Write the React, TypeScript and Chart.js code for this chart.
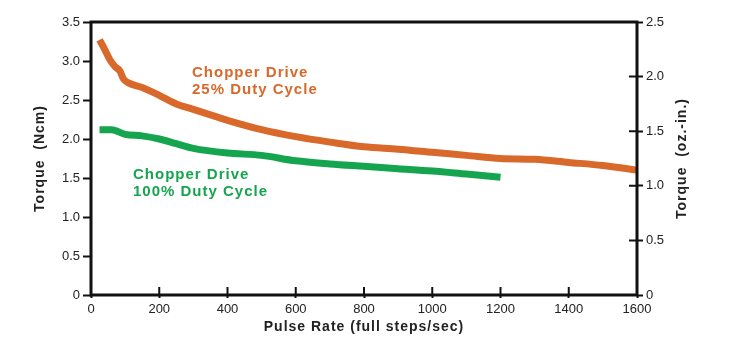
import React, { useEffect, useRef } from "react";
import { Chart, registerables } from "chart.js";

Chart.register(...registerables);

const pulseRate25 = [25, 40, 55, 70, 85, 95, 110, 150, 200, 250, 300, 350, 400, 500, 600, 700, 800, 900, 1000, 1100, 1200, 1300, 1400, 1500, 1600];
const torque25 = [3.27, 3.15, 3.02, 2.93, 2.87, 2.77, 2.72, 2.66, 2.56, 2.45, 2.38, 2.31, 2.24, 2.12, 2.03, 1.96, 1.9, 1.87, 1.83, 1.79, 1.75, 1.74, 1.7, 1.66, 1.6];
const pulseRate100 = [25, 60, 100, 150, 200, 250, 300, 400, 500, 600, 700, 800, 900, 1000, 1100, 1200];
const torque100 = [2.12, 2.12, 2.06, 2.04, 2.0, 1.94, 1.88, 1.82, 1.79, 1.72, 1.68, 1.65, 1.62, 1.59, 1.55, 1.51];

const xTicks = [0, 200, 400, 600, 800, 1000, 1200, 1400, 1600];
const leftTicks = [0, 0.5, 1.0, 1.5, 2.0, 2.5, 3.0, 3.5];
const rightTicks = [0, 0.5, 1.0, 1.5, 2.0, 2.5];

const label25 = ["Chopper Drive", "25% Duty Cycle"];
const label25Pos = { x: 296, y1: 2.85, y2: 2.63 };
const label100 = ["Chopper Drive", "100% Duty Cycle"];
const label100Pos = { x: 123, y1: 1.54, y2: 1.32 };

const ORANGE = "#d8692a";
const GREEN = "#16a54f";
const FONT = "'Liberation Sans', Arial, Helvetica, sans-serif";

const fmt = (v: number) => (v === 0 ? "0" : v.toFixed(1));

const decorPlugin = {
  id: "decor",
  afterDatasetsDraw(chart: any) {
    const ctx = chart.ctx as CanvasRenderingContext2D;
    const { left, right, top, bottom } = chart.chartArea;
    const xs = chart.scales.x;
    const yl = chart.scales.y;
    const yr = chart.scales.y2;
    ctx.save();
    // frame
    ctx.strokeStyle = "#111";
    ctx.lineWidth = 3;
    ctx.strokeRect(left, top, right - left, bottom - top);
    // inner ticks
    ctx.lineWidth = 2;
    ctx.beginPath();
    xTicks.forEach((v) => {
      const px = xs.getPixelForValue(v);
      ctx.moveTo(px, bottom);
      ctx.lineTo(px, bottom - 8);
    });
    rightTicks.forEach((v) => {
      const py = yr.getPixelForValue(v);
      ctx.moveTo(right, py);
      ctx.lineTo(right - 8, py);
    });
    ctx.stroke();

    // annotations
    (ctx as any).letterSpacing = "1px";
    ctx.font = `bold 15px ${FONT}`;
    ctx.textAlign = "left";
    ctx.textBaseline = "middle";
    ctx.fillStyle = ORANGE;
    ctx.fillText(label25[0], xs.getPixelForValue(label25Pos.x), yl.getPixelForValue(label25Pos.y1));
    ctx.fillText(label25[1], xs.getPixelForValue(label25Pos.x), yl.getPixelForValue(label25Pos.y2));
    ctx.fillStyle = GREEN;
    ctx.fillText(label100[0], xs.getPixelForValue(label100Pos.x), yl.getPixelForValue(label100Pos.y1));
    ctx.fillText(label100[1], xs.getPixelForValue(label100Pos.x), yl.getPixelForValue(label100Pos.y2));

    // axis titles
    ctx.fillStyle = "#222";
    ctx.font = `bold 14px ${FONT}`;
    ctx.textAlign = "center";
    const midY = (top + bottom) / 2;
    ctx.save();
    ctx.translate(40, midY);
    ctx.rotate(-Math.PI / 2);
    ctx.fillText("Torque  (Ncm)", 0, 0);
    ctx.restore();
    ctx.save();
    ctx.translate(682, midY);
    ctx.rotate(-Math.PI / 2);
    ctx.fillText("Torque  (oz.-in.)", 0, 0);
    ctx.restore();
    ctx.fillText("Pulse Rate (full steps/sec)", (left + right) / 2, 327);
    ctx.restore();
  },
};

export default function App() {
  const ref = useRef<HTMLCanvasElement | null>(null);
  useEffect(() => {
    document.body.style.margin = "0";
    const canvas = ref.current!;
    const chart = new Chart(canvas, {
      type: "line",
      data: {
        datasets: [
          {
            label: "25%",
            data: pulseRate25.map((x, i) => ({ x, y: torque25[i] })),
            borderColor: ORANGE,
            borderWidth: 7,
            pointRadius: 0,
            tension: 0.3,
            cubicInterpolationMode: "monotone",
            fill: false,
          },
          {
            label: "100%",
            data: pulseRate100.map((x, i) => ({ x, y: torque100[i] })),
            borderColor: GREEN,
            borderWidth: 7,
            pointRadius: 0,
            tension: 0.3,
            cubicInterpolationMode: "monotone",
            fill: false,
          },
        ],
      },
      options: {
        responsive: false,
        animation: false,
        layout: { padding: { top: 22, left: 0, right: 0, bottom: 0 } },
        plugins: { legend: { display: false }, tooltip: { enabled: false } },
        scales: {
          x: {
            type: "linear",
            min: 0,
            max: 1600,
            afterBuildTicks: (s: any) => {
              s.ticks = xTicks.map((v) => ({ value: v }));
            },
            ticks: { color: "#222", font: { family: FONT, size: 13 }, padding: 4, maxRotation: 0, callback: (v: any) => String(v) },
            grid: { drawOnChartArea: false, drawTicks: true, tickLength: 3, tickWidth: 2, tickColor: "#111" },
            border: { display: false },
            afterFit: (s: any) => {
              s.height = 50;
            },
          },
          y: {
            position: "left",
            min: 0,
            max: 3.5,
            afterBuildTicks: (s: any) => {
              s.ticks = leftTicks.map((v) => ({ value: v }));
            },
            ticks: { color: "#222", font: { family: FONT, size: 13 }, padding: 3, callback: (v: any) => fmt(Number(v)) },
            grid: { drawOnChartArea: false, drawTicks: true, tickLength: 8, tickWidth: 2, tickColor: "#111" },
            border: { display: false },
            afterFit: (s: any) => {
              s.width = 91;
            },
          },
          y2: {
            position: "right",
            min: 0,
            max: 2.5,
            afterBuildTicks: (s: any) => {
              s.ticks = rightTicks.map((v) => ({ value: v }));
            },
            ticks: { color: "#222", font: { family: FONT, size: 13 }, padding: 3, callback: (v: any) => fmt(Number(v)) },
            grid: { drawOnChartArea: false, drawTicks: true, tickLength: 6, tickWidth: 2, tickColor: "#111" },
            border: { display: false },
            afterFit: (s: any) => {
              s.width = 92;
            },
          },
        },
      },
      plugins: [decorPlugin],
    } as any);
    return () => chart.destroy();
  }, []);
  return (
    <div style={{ position: "fixed", left: 0, top: 0, width: 729, height: 345, background: "#fff" }}>
      <canvas ref={ref} width={729} height={345} />
    </div>
  );
}
